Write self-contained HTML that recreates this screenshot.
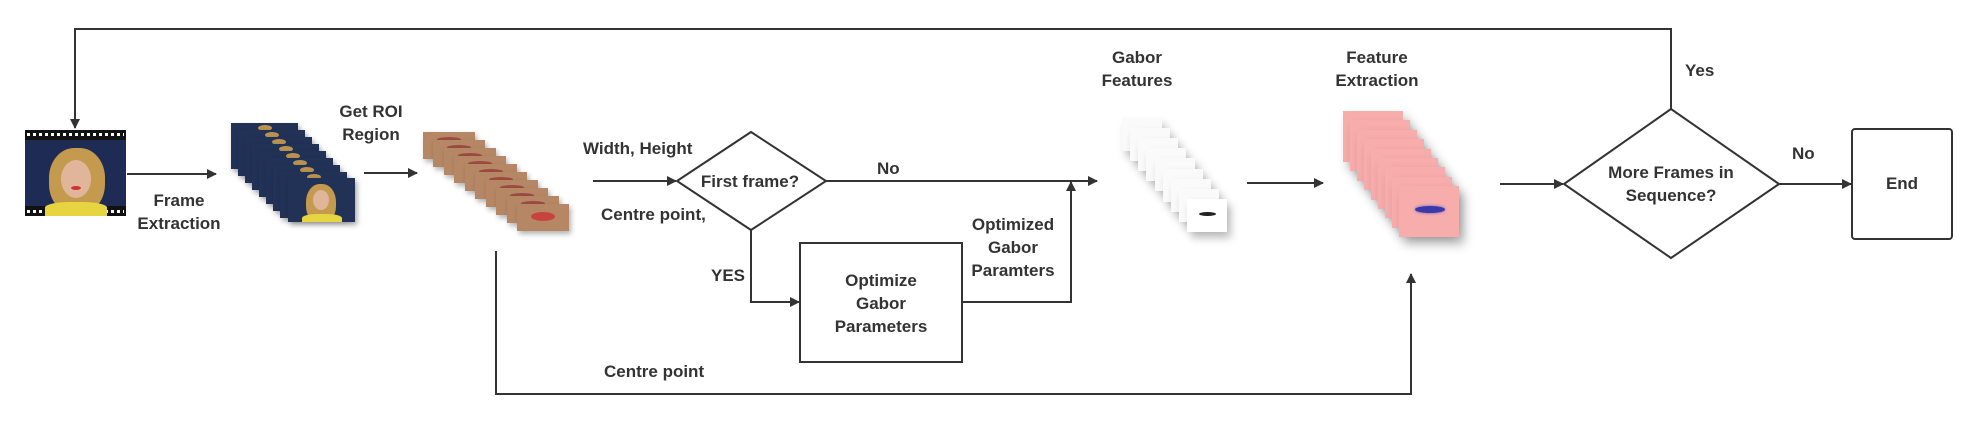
<!DOCTYPE html>
<html><head><meta charset="utf-8"><style>
body{margin:0;width:1977px;height:447px;background:#fff;position:relative;overflow:hidden;font-family:"Liberation Sans",sans-serif;}
.t{position:absolute;font-weight:bold;font-size:17px;color:#333;line-height:23px;text-align:center;white-space:nowrap;}
.abs{position:absolute;}
.bf{position:absolute;width:67px;height:46px;background:#223257;box-shadow:2px 3px 5px rgba(0,0,0,.35);overflow:hidden;}
.bf i{position:absolute;left:27px;top:2px;width:14px;height:6px;border-radius:50%;background:#b99350;}
.lf{position:absolute;width:52px;height:27px;background:#b58765;box-shadow:2px 3px 5px rgba(0,0,0,.3);overflow:hidden;}
.lf i{position:absolute;left:14px;top:5px;width:24px;height:5px;border-radius:50%;background:#9e4a45;}
.gf{position:absolute;width:40px;height:33px;background:#fafafa;box-shadow:4px 6px 8px rgba(0,0,0,.25);}
.pf{position:absolute;width:60px;height:51px;background:#f8adad;box-shadow:5px 7px 10px rgba(0,0,0,.3);}
</style></head><body>
<svg class="abs" style="left:0;top:0" width="1977" height="447">
<defs><marker id="a" markerWidth="10" markerHeight="10" refX="9" refY="5" orient="auto" markerUnits="userSpaceOnUse"><path d="M0,0 L10,5 L0,10 z" fill="#333"/></marker></defs>
<g stroke="#333" stroke-width="2" fill="none">
<polyline points="1671,109 1671,29 75,29 75,128" marker-end="url(#a)"/>
<line x1="127" y1="174" x2="216" y2="174" marker-end="url(#a)"/>
<line x1="364" y1="173" x2="417" y2="173" marker-end="url(#a)"/>
<line x1="593" y1="181" x2="676" y2="181" marker-end="url(#a)"/>
<line x1="826" y1="181" x2="1097" y2="181" marker-end="url(#a)"/>
<polyline points="751,230 751,302 799,302" marker-end="url(#a)"/>
<polyline points="962,302 1071,302 1071,182" marker-end="url(#a)"/>
<polyline points="496,251 496,394 1411,394 1411,274" marker-end="url(#a)"/>
<line x1="1247" y1="183" x2="1323" y2="183" marker-end="url(#a)"/>
<line x1="1500" y1="184" x2="1563" y2="184" marker-end="url(#a)"/>
<line x1="1779" y1="184" x2="1851" y2="184" marker-end="url(#a)"/>
<polygon points="677,181 751,132 826,181 751,230" stroke-width="2"/>
<polygon points="1564,184 1671,109 1779,184 1671,258" stroke-width="2"/>
<rect x="800" y="243" width="162" height="119"/>
<rect x="1852" y="129" width="100" height="110" rx="3"/>
</g>
</svg>
<!-- face -->
<div class="abs" style="left:25px;top:130px;width:101px;height:86px;background:#1e2b55;overflow:hidden;">
<div class="abs" style="left:0;top:0;width:101px;height:10px;background:#111;"></div>
<div class="abs" style="left:0;bottom:0;width:101px;height:10px;background:#111;"></div>
<div class="abs" style="left:2px;top:3px;width:97px;height:3px;background:repeating-linear-gradient(90deg,#fff 0 3px,transparent 3px 6px);"></div>
<div class="abs" style="left:2px;bottom:3px;width:97px;height:3px;background:repeating-linear-gradient(90deg,#fff 0 3px,transparent 3px 6px);"></div>
<div class="abs" style="left:24px;top:18px;width:56px;height:66px;border-radius:45%;background:#c49a4e;"></div>
<div class="abs" style="left:36px;top:30px;width:30px;height:38px;border-radius:50%;background:#e1b59a;"></div>
<div class="abs" style="left:46px;top:56px;width:10px;height:4px;border-radius:50%;background:#c33;"></div>
<div class="abs" style="left:20px;top:72px;width:62px;height:14px;border-radius:40% 40% 0 0;background:#e6d440;"></div>
</div>
<!-- blue stack -->
<div class="bf" style="left:231px;top:123px"><i></i></div>
<div class="bf" style="left:238px;top:130px"><i></i></div>
<div class="bf" style="left:245px;top:137px"><i></i></div>
<div class="bf" style="left:252px;top:144px"><i></i></div>
<div class="bf" style="left:259px;top:151px"><i></i></div>
<div class="bf" style="left:266px;top:158px"><i></i></div>
<div class="bf" style="left:273px;top:165px"><i></i></div>
<div class="bf" style="left:280px;top:172px"><i></i></div>
<div class="bf" style="left:288px;top:178px;height:44px;"><div class="abs" style="left:18px;top:6px;width:30px;height:40px;border-radius:45%;background:#c49a4e"></div><div class="abs" style="left:25px;top:12px;width:16px;height:20px;border-radius:50%;background:#e1b59a"></div><div class="abs" style="left:14px;top:36px;width:40px;height:10px;background:#e6d440;border-radius:40% 40% 0 0"></div></div>
<!-- lips stack -->
<div class="lf" style="left:423px;top:132px"><i></i></div>
<div class="lf" style="left:433px;top:140px"><i></i></div>
<div class="lf" style="left:444px;top:148px"><i></i></div>
<div class="lf" style="left:454px;top:156px"><i></i></div>
<div class="lf" style="left:465px;top:164px"><i></i></div>
<div class="lf" style="left:475px;top:172px"><i></i></div>
<div class="lf" style="left:486px;top:180px"><i></i></div>
<div class="lf" style="left:496px;top:188px"><i></i></div>
<div class="lf" style="left:507px;top:196px"><i></i></div>
<div class="lf" style="left:517px;top:204px"><i style="top:8px;height:9px;background:#c8433d"></i></div>
<!-- gabor stack -->
<div class="gf" style="left:1122px;top:118px"></div>
<div class="gf" style="left:1130px;top:128px"></div>
<div class="gf" style="left:1138px;top:138px"></div>
<div class="gf" style="left:1146px;top:148px"></div>
<div class="gf" style="left:1155px;top:158px"></div>
<div class="gf" style="left:1163px;top:169px"></div>
<div class="gf" style="left:1171px;top:179px"></div>
<div class="gf" style="left:1179px;top:189px"></div>
<div class="gf" style="left:1187px;top:199px;background:#fff"><div class="abs" style="left:12px;top:13px;width:17px;height:4px;border-radius:50%;background:#222"></div></div>
<!-- pink stack -->
<div class="pf" style="left:1343px;top:111px"></div>
<div class="pf" style="left:1350px;top:120px"></div>
<div class="pf" style="left:1357px;top:130px"></div>
<div class="pf" style="left:1364px;top:139px"></div>
<div class="pf" style="left:1371px;top:149px"></div>
<div class="pf" style="left:1378px;top:158px"></div>
<div class="pf" style="left:1385px;top:167px"></div>
<div class="pf" style="left:1392px;top:177px"></div>
<div class="pf" style="left:1399px;top:186px"><div class="abs" style="left:16px;top:20px;width:30px;height:7px;border-radius:50%;background:#3a3aa8;box-shadow:0 0 3px #6060c0"></div></div>
<!-- labels -->
<div class="t" style="left:129px;top:189px;width:100px">Frame<br>Extraction</div>
<div class="t" style="left:321px;top:100px;width:100px">Get ROI<br>Region</div>
<div class="t" style="left:583px;top:137px">Width, Height</div>
<div class="t" style="left:601px;top:203px">Centre point,</div>
<div class="t" style="left:690px;top:170px;width:120px">First frame?</div>
<div class="t" style="left:877px;top:157px">No</div>
<div class="t" style="left:708px;top:264px;width:40px">YES</div>
<div class="t" style="left:801px;top:269px;width:160px">Optimize<br>Gabor<br>Parameters</div>
<div class="t" style="left:953px;top:213px;width:120px">Optimized<br>Gabor<br>Paramters</div>
<div class="t" style="left:604px;top:360px">Centre point</div>
<div class="t" style="left:1087px;top:46px;width:100px">Gabor<br>Features</div>
<div class="t" style="left:1322px;top:46px;width:110px">Feature<br>Extraction</div>
<div class="t" style="left:1685px;top:59px">Yes</div>
<div class="t" style="left:1792px;top:142px">No</div>
<div class="t" style="left:1591px;top:161px;width:160px">More Frames in<br>Sequence?</div>
<div class="t" style="left:1852px;top:172px;width:100px">End</div>
</body></html>
